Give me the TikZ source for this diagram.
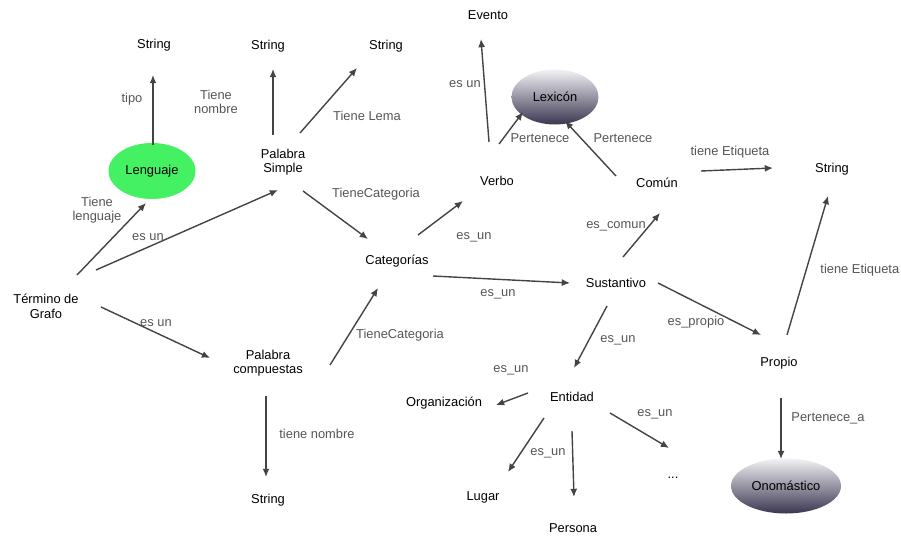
\documentclass[tikz,border=0pt]{standalone}
\usepackage{fontspec}
\setmainfont{Liberation Sans}
\usetikzlibrary{arrows.meta,shapes.geometric}

\definecolor{arrgray}{HTML}{444444}
\definecolor{lblgray}{HTML}{555555}
\definecolor{langgreen}{HTML}{44F162}
\definecolor{lextop}{HTML}{F2F2F6}
\definecolor{lexmid}{HTML}{A7A6B6}
\definecolor{lexbot}{HTML}{3B3650}

\begin{document}
\begin{tikzpicture}[x=0.03cm,y=-0.03cm,
    every node/.style={font=\fontsize{11}{12.5}\selectfont, align=center, inner sep=1pt},
    lbl/.style={text=lblgray},
    arr/.style={draw=arrgray, line width=1.2pt, -{Latex[length=7pt,width=6pt]}},
    greenell/.style={ellipse, fill=langgreen, minimum width=2.61cm, minimum height=1.68cm},
    greyell/.style={ellipse, top color=lextop, middle color=lexmid, bottom color=lexbot},
  ]
  \useasboundingbox (0,0) rectangle (901,537);
  \clip (0,0) rectangle (901,537);

  % concepts
  \node (s1) at (154,45) {String};
  \node (s2) at (268,46) {String};
  \node (s3) at (386,46) {String};
  \node (evento) at (488,15) {Evento};
  \node[greyell, minimum width=2.61cm, minimum height=1.65cm] (lexicon) at (555,97) {Lexicón};
  \node[greenell] (lenguaje) at (152,171) {Lenguaje};
  \node (psimple) at (283,162) {Palabra\\Simple};
  \node (verbo) at (497,181) {Verbo};
  \node (comun) at (657,183) {Común};
  \node (sright) at (832,169) {String};
  \node (categ) at (397,261) {Categorías};
  \node (sust) at (616,283) {Sustantivo};
  \node (termino) at (46,306) {Término de\\Grafo};
  \node (pcomp) at (268,363) {Palabra\\compuestas};
  \node (propio) at (779,363) {Propio};
  \node (org) at (444,403) {Organización};
  \node (entidad) at (572,397) {Entidad};
  \node[greyell, minimum width=3.3cm, minimum height=1.65cm] (onom) at (786,486) {Onomástico};
  \node (lugar) at (483,497) {Lugar};
  \node (persona) at (573,528) {Persona};
  \node (dots) at (673,478) {...};
  \node (sbot) at (268,500) {String};

  % relations
  \draw[arr] ([shift={(1,-26)}]lenguaje.center) -- ([shift={(-1,30)}]s1.center);
  \draw[arr] ([shift={(-10,-27)}]psimple.center) -- ([shift={(5,23)}]s2.center);
  \draw[arr] ([shift={(17,-29)}]psimple.center) -- ([shift={(-29,22)}]s3.center);
  \draw[arr] ([shift={(31,-31)}]termino.center) -- ([shift={(-6,32)}]lenguaje.center);
  \draw[arr] ([shift={(50,-36)}]termino.center) -- ([shift={(-5,28)}]psimple.center);
  \draw[arr] ([shift={(20,29)}]psimple.center) -- ([shift={(-29,-22)}]categ.center);
  \draw[arr] ([shift={(55,1)}]termino.center) -- ([shift={(-58,-5)}]pcomp.center);
  \draw[arr] ([shift={(62,2)}]pcomp.center) -- ([shift={(-19,27)}]categ.center);
  \draw[arr] ([shift={(-2,33)}]pcomp.center) -- ([shift={(-2,-23)}]sbot.center);
  \draw[arr] ([shift={(21,-26)}]categ.center) -- ([shift={(-34,20)}]verbo.center);
  \draw[arr] ([shift={(36,15)}]categ.center) -- ([shift={(-46,0)}]sust.center);
  \draw[arr] ([shift={(-8,-39)}]verbo.center) -- ([shift={(-7,24)}]evento.center);
  \draw[arr] ([shift={(2,-37)}]verbo.center) -- ([shift={(-32,15)}]lexicon.center);
  \draw[arr] ([shift={(-41,-7)}]comun.center) -- ([shift={(10,24)}]lexicon.center);
  \draw[arr] ([shift={(44,-12)}]comun.center) -- ([shift={(-59,-1)}]sright.center);
  \draw[arr] ([shift={(7,-26)}]sust.center) -- ([shift={(3,30)}]comun.center);
  \draw[arr] ([shift={(42,0)}]sust.center) -- ([shift={(-18,-28)}]propio.center);
  \draw[arr] ([shift={(8,-28)}]propio.center) -- ([shift={(-4,27)}]sright.center);
  \draw[arr] ([shift={(-9,23)}]sust.center) -- ([shift={(2,-29)}]entidad.center);
  \draw[arr] ([shift={(-44,-4)}]entidad.center) -- ([shift={(52,2)}]org.center);
  \draw[arr] ([shift={(-28,21)}]entidad.center) -- ([shift={(25,-25)}]lugar.center);
  \draw[arr] ([shift={(0,34)}]entidad.center) -- ([shift={(1,-31)}]persona.center);
  \draw[arr] ([shift={(38,16)}]entidad.center) -- ([shift={(-4,-30)}]dots.center);
  \draw[arr] ([shift={(2,35)}]propio.center) -- ([shift={(-5,-27)}]onom.center);

  % relation labels
  \node[lbl] (ltipo) at (132,99) {tipo};
  \node[lbl] (lnombre) at (216,102) {Tiene\\nombre};
  \node[lbl] (llema) at (367,116) {Tiene Lema};
  \node[lbl] (llenguaje) at (97,210) {Tiene\\lenguaje};
  \node[lbl] (lesuna) at (148,237) {es un};
  \node[lbl] (lcata) at (376,194) {TieneCategoria};
  \node[lbl] (lesunb) at (156,323) {es un};
  \node[lbl] (lcatb) at (400,335) {TieneCategoria};
  \node[lbl] (lnombreb) at (317,434) {tiene nombre};
  \node[lbl] (lverbo) at (474,237) {es\_un};
  \node[lbl] (lsust) at (498,294) {es\_un};
  \node[lbl] (levento) at (465,84) {es un};
  \node[lbl] (lperta) at (540,138) {Pertenece};
  \node[lbl] (lpertb) at (623,138) {Pertenece};
  \node[lbl] (letiqa) at (730,152) {tiene Etiqueta};
  \node[lbl] (lcomun) at (616,226) {es\_comun};
  \node[lbl] (lpropio) at (696,322) {es\_propio};
  \node[lbl, anchor=west] (letiqb) at (819,270) {tiene Etiqueta};
  \node[lbl] (lentidad) at (618,340) {es\_un};
  \node[lbl] (lorg) at (511,370) {es\_un};
  \node[lbl] (llugar) at (548,453) {es\_un};
  \node[lbl] (ldots) at (655,414) {es\_un};
  \node[lbl] (lperto) at (828,418) {Pertenece\_a};
\end{tikzpicture}
\end{document}
